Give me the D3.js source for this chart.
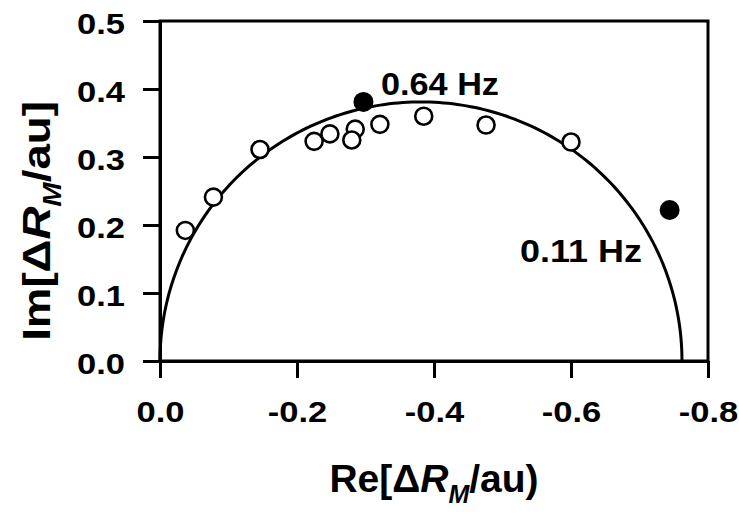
<!DOCTYPE html>
<html lang="en">
<head>
  <meta charset="UTF-8" />
  <title>Re/Im dR_M semicircle</title>
  <script src="https://cdn.jsdelivr.net/npm/d3@7"></script>
  <style>
    body { margin: 0; background: #fff; }
    svg { display: block; }
    text { font-family: "Liberation Sans", Arial, sans-serif; font-weight: bold; fill: #000; }
  </style>
</head>
<body>
<script>
// open circles: measured points
const openRe = [-0.037, -0.078, -0.146, -0.225, -0.248, -0.285, -0.280, -0.321, -0.385, -0.476, -0.600];
const openIm = [0.192, 0.241, 0.311, 0.323, 0.334, 0.341, 0.325, 0.348, 0.360, 0.347, 0.322];
// filled circles: labelled frequencies
const filledRe = [-0.297, -0.744];
const filledIm = [0.381, 0.222];
const filledLabels = ["0.64 Hz", "0.11 Hz"];
// fitted semicircle
const fitCenter = -0.381;
const fitRadius = 0.381;

const xTicks = [0, -0.2, -0.4, -0.6, -0.8];
const xTickLabels = ["0.0", "-0.2", "-0.4", "-0.6", "-0.8"];
const yTicks = [0, 0.1, 0.2, 0.3, 0.4, 0.5];
const yTickLabels = ["0.0", "0.1", "0.2", "0.3", "0.4", "0.5"];

const W = 739, H = 518;
const m = { left: 160, right: 739 - 708, top: 21, bottom: 518 - 361 };
const stretch = 1.15; // the original lettering is wider than plain Arial

const svg = d3.select("body").append("svg")
  .attr("width", W).attr("height", H);

const x = d3.scaleLinear().domain([0, -0.8]).range([m.left, W - m.right]);
const y = d3.scaleLinear().domain([0, 0.5]).range([H - m.bottom, m.top]);

// frame
svg.append("rect")
  .attr("x", x(0)).attr("y", y(0.5))
  .attr("width", x(-0.8) - x(0)).attr("height", y(0) - y(0.5))
  .attr("fill", "none").attr("stroke", "#000").attr("stroke-width", 3);

const xAxis = svg.append("g")
  .attr("transform", `translate(0,${y(0)})`)
  .call(d3.axisBottom(x).tickValues(xTicks)
    .tickFormat((d, i) => xTickLabels[i]).tickSize(17).tickPadding(23).tickSizeOuter(0));
const yAxis = svg.append("g")
  .attr("transform", `translate(${x(0)},0)`)
  .call(d3.axisLeft(y).tickValues(yTicks)
    .tickFormat((d, i) => yTickLabels[i]).tickSize(17).tickPadding(13.5).tickSizeOuter(0));

[xAxis, yAxis].forEach(g => {
  g.select(".domain").attr("stroke", "#000").attr("stroke-width", 3);
  g.selectAll(".tick line").attr("stroke", "#000").attr("stroke-width", 3);
  g.selectAll(".tick text").style("font-size", "30px").attr("fill", "#000")
    .attr("transform", `scale(${stretch},1)`);
});
yAxis.selectAll(".tick text").attr("dy", "0.42em");

// fit curve
const angles = d3.range(0, 181).map(a => a * Math.PI / 180);
const line = d3.line()
  .x(t => x(fitCenter + fitRadius * Math.cos(t)))
  .y(t => y(fitRadius * Math.sin(t)));
svg.append("path")
  .datum(angles)
  .attr("d", line)
  .attr("fill", "none").attr("stroke", "#000").attr("stroke-width", 3);

// open points
svg.append("g").selectAll("circle")
  .data(openRe.map((r, i) => [r, openIm[i]]))
  .join("circle")
  .attr("cx", d => x(d[0])).attr("cy", d => y(d[1]))
  .attr("r", 8.5)
  .attr("fill", "#fff").attr("stroke", "#000").attr("stroke-width", 2.6);

// filled points
svg.append("g").selectAll("circle")
  .data(filledRe.map((r, i) => [r, filledIm[i]]))
  .join("circle")
  .attr("cx", d => x(d[0])).attr("cy", d => y(d[1]))
  .attr("r", 10)
  .attr("fill", "#000");

// frequency labels
svg.append("text").attr("x", 381).attr("y", 95)
  .style("font-size", "31px")
  .attr("textLength", 118).attr("lengthAdjust", "spacingAndGlyphs")
  .text(filledLabels[0]);
svg.append("text").attr("x", 520).attr("y", 262)
  .style("font-size", "31px")
  .attr("textLength", 122).attr("lengthAdjust", "spacingAndGlyphs")
  .text(filledLabels[1]);

// axis titles
function title(sel, head, tail) {
  sel.append("tspan").text(head + "\u0394");
  sel.append("tspan").style("font-style", "italic").text("R");
  sel.append("tspan").style("font-style", "italic").style("font-size", "25px").attr("dy", 11).text("M");
  sel.append("tspan").attr("dy", -11).text(tail);
}
const xt = svg.append("text")
  .attr("x", (x(0) + x(-0.8)) / 2).attr("y", 492)
  .attr("text-anchor", "middle").style("font-size", "39px");
title(xt, "Re[", "/au)");

const yt = svg.append("text")
  .attr("transform", "translate(50,221) rotate(-90) scale(1.17,1)")
  .attr("text-anchor", "middle").style("font-size", "39px");
title(yt, "Im[", "/au]");
</script>
</body>
</html>
